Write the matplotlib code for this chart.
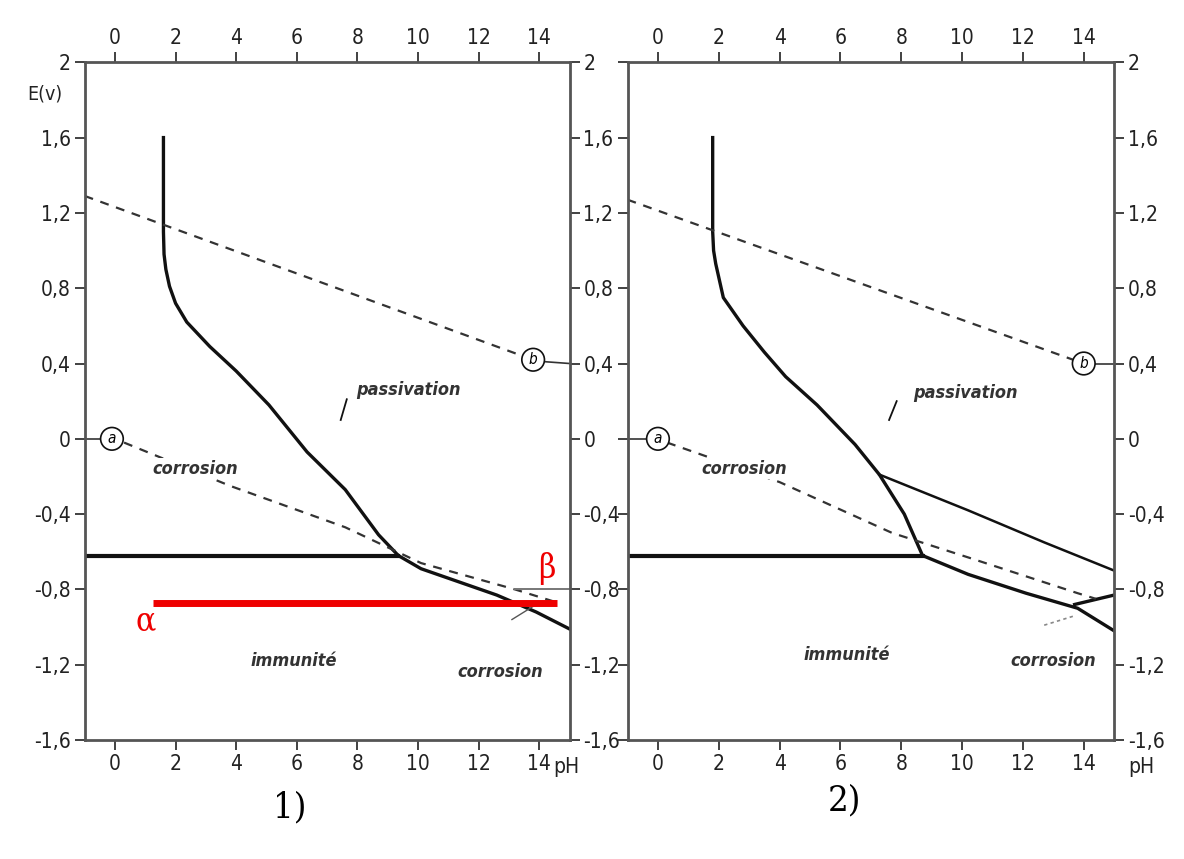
import matplotlib
matplotlib.use("Agg")
import matplotlib.pyplot as plt

plt.rcParams['font.family'] = ['Liberation Sans Narrow', 'DejaVu Sans']
plt.rcParams['font.stretch'] = 'condensed'

# axes ticks
ph_ticks = [0, 2, 4, 6, 8, 10, 12, 14]
e_ticks = [2, 1.6, 1.2, 0.8, 0.4, 0, -0.4, -0.8, -1.2, -1.6]
e_labels = ["2", "1,6", "1,2", "0,8", "0,4", "0", "-0,4", "-0,8", "-1,2", "-1,6"]

# diagram 1)
p1_curve_ph = [1.6, 1.6, 1.62, 1.68, 1.8, 2.0, 2.37, 3.13, 4.0, 5.08, 6.34, 7.6, 8.7, 9.35]
p1_curve_e = [1.6, 1.1, 0.98, 0.9, 0.81, 0.72, 0.62, 0.49, 0.36, 0.18, -0.07, -0.27, -0.51, -0.62]
p1_flat_ph = [-1, 9.35]
p1_low_ph = [9.35, 10.1, 11.35, 12.6, 13.9, 15]
p1_low_e = [-0.62, -0.69, -0.76, -0.83, -0.92, -1.01]
p1_a_ph = [0.3, 3.8, 7.6, 10.1, 13.2, 14.6]
p1_a_e = [-0.02, -0.25, -0.47, -0.66, -0.8, -0.87]
p1_b_ph = [-1, 13.45]
p1_b_e = [1.29, 0.44]
red_ph = [1.25, 14.6]
red_e = [-0.87, -0.87]

# diagram 2)
p2_curve_ph = [1.8, 1.8, 1.83, 1.9, 2.15, 2.8, 3.5, 4.2, 5.23, 6.48, 7.28, 8.1, 8.7]
p2_curve_e = [1.6, 1.1, 1.0, 0.93, 0.75, 0.6, 0.46, 0.33, 0.18, -0.03, -0.19, -0.4, -0.62]
p2_flat_ph = [-1, 8.7]
p2_low_ph = [8.7, 10.2, 12.1, 13.8, 15]
p2_low_e = [-0.62, -0.72, -0.82, -0.9, -1.02]
p2_up_ph = [7.28, 10.2, 12.7, 15]
p2_up_e = [-0.19, -0.38, -0.55, -0.7]
p2_tri_ph = [13.7, 15]
p2_tri_e = [-0.88, -0.83]
p2_a_ph = [0.3, 4.0, 7.7, 10.2, 13.8, 14.4]
p2_a_e = [-0.02, -0.23, -0.5, -0.63, -0.82, -0.85]
p2_b_ph = [-1, 13.65]
p2_b_e = [1.27, 0.42]

E_flat = -0.62

fig = plt.figure(figsize=(11.84, 8.59), dpi=100)
ax1 = fig.add_axes([0.0715, 0.1385, 0.4095, 0.789])
ax2 = fig.add_axes([0.530, 0.1385, 0.411, 0.789])

ink = "#111111"
dash = (0, (4, 3.5))
lab = dict(fontsize=13, style='italic', weight='bold', color="#333333", ha='center', va='center')


def frame(ax, left_labels, right_labels):
    ax.set_xlim(-1, 15)
    ax.set_ylim(-1.6, 2)
    ax.set_xticks(ph_ticks)
    ax.set_xticklabels([str(t) for t in ph_ticks])
    ax.set_yticks(e_ticks)
    ax.set_yticklabels(e_labels)
    ax.tick_params(direction='out', length=7, width=1.3, colors="#333333",
                   labelsize=15, labelcolor="#222222",
                   top=True, right=True, labeltop=True, labelbottom=True,
                   labelleft=left_labels, labelright=right_labels, pad=3)
    for s in ax.spines.values():
        s.set_linewidth(2)
        s.set_edgecolor("#555555")


frame(ax1, True, True)
frame(ax2, False, True)

ax1.text(14.45, -1.69, "pH", fontsize=15, color="#222222", va='top', ha='left', clip_on=False)
ax2.text(15.45, -1.69, "pH", fontsize=15, color="#222222", va='top', ha='left', clip_on=False)
ax1.text(-2.3, 1.83, "E(v)", fontsize=14, color="#222222", ha='center', va='center', clip_on=False)

# ---- diagram 1
ax1.plot(p1_curve_ph, p1_curve_e, color=ink, lw=2.4)
ax1.plot(p1_flat_ph, [E_flat, E_flat], color=ink, lw=3)
ax1.plot(p1_low_ph, p1_low_e, color=ink, lw=2.4)
ax1.plot(p1_a_ph, p1_a_e, color="#333333", lw=1.6, ls=dash)
ax1.plot(p1_b_ph, p1_b_e, color="#333333", lw=1.6, ls=dash)
ax1.plot([-1, -0.35], [0, 0], color="#333333", lw=1.2)
ax1.plot([14.15, 15], [0.41, 0.4], color="#333333", lw=1.2)
ax1.plot([13.2, 15], [-0.8, -0.8], color="#777777", lw=1.4)
ax1.plot([13.1, 13.9], [-0.96, -0.88], color="#555555", lw=1)
ax1.plot([7.65, 7.45], [0.21, 0.1], color=ink, lw=1.3)
ax1.plot(red_ph, red_e, color="#ee0000", lw=5, solid_capstyle='butt', zorder=5)

ax1.text(9.7, 0.26, "passivation", **lab)
ax1.text(2.65, -0.16, "corrosion", bbox=dict(fc='white', ec='none', pad=1), **lab)
ax1.text(5.9, -1.18, "immunité", **lab)
ax1.text(12.7, -1.24, "corrosion", **lab)
ax1.text(1.0, -0.97, "α", fontsize=24, color="#ee0000", family='DejaVu Serif', ha='center', va='center')
ax1.text(14.25, -0.69, "β", fontsize=24, color="#ee0000", family='DejaVu Serif', ha='center', va='center')

# ---- diagram 2
ax2.plot(p2_curve_ph, p2_curve_e, color=ink, lw=2.4)
ax2.plot(p2_flat_ph, [E_flat, E_flat], color=ink, lw=3)
ax2.plot(p2_low_ph, p2_low_e, color=ink, lw=2.4)
ax2.plot(p2_up_ph, p2_up_e, color=ink, lw=1.8)
ax2.plot(p2_tri_ph, p2_tri_e, color=ink, lw=2.4)
ax2.plot(p2_a_ph, p2_a_e, color="#333333", lw=1.6, ls=dash)
ax2.plot(p2_b_ph, p2_b_e, color="#333333", lw=1.6, ls=dash)
ax2.plot([-1, -0.35], [0, 0], color="#333333", lw=1.2)
ax2.plot([14.35, 15], [0.4, 0.4], color="#333333", lw=1.2)
ax2.plot([12.7, 13.7], [-0.99, -0.94], color="#888888", lw=1.2, ls=(0, (2, 2)))
ax2.plot([7.85, 7.6], [0.2, 0.1], color=ink, lw=1.3)

ax2.text(10.1, 0.245, "passivation", **lab)
ax2.text(2.85, -0.16, "corrosion", bbox=dict(fc='white', ec='none', pad=1), **lab)
ax2.text(6.2, -1.15, "immunité", **lab)
ax2.text(13.0, -1.18, "corrosion", **lab)

# circled a / b labels
for ax, pa, pb in ((ax1, (-0.1, 0.0), (13.8, 0.42)), (ax2, (0.0, 0.0), (14.0, 0.4))):
    for (x, y), t in ((pa, "a"), (pb, "b")):
        ax.annotate(t, (x, y), fontsize=11, style='italic', ha='center', va='center',
                    bbox=dict(boxstyle='circle,pad=0.25', fc='white', ec=ink, lw=1.2), zorder=6)

fig.text(0.245, 0.06, "1)", fontsize=26, family='DejaVu Serif', ha='center', va='center')
fig.text(0.713, 0.068, "2)", fontsize=26, family='DejaVu Serif', ha='center', va='center')

fig.savefig("out.png", dpi=100, facecolor='white')
